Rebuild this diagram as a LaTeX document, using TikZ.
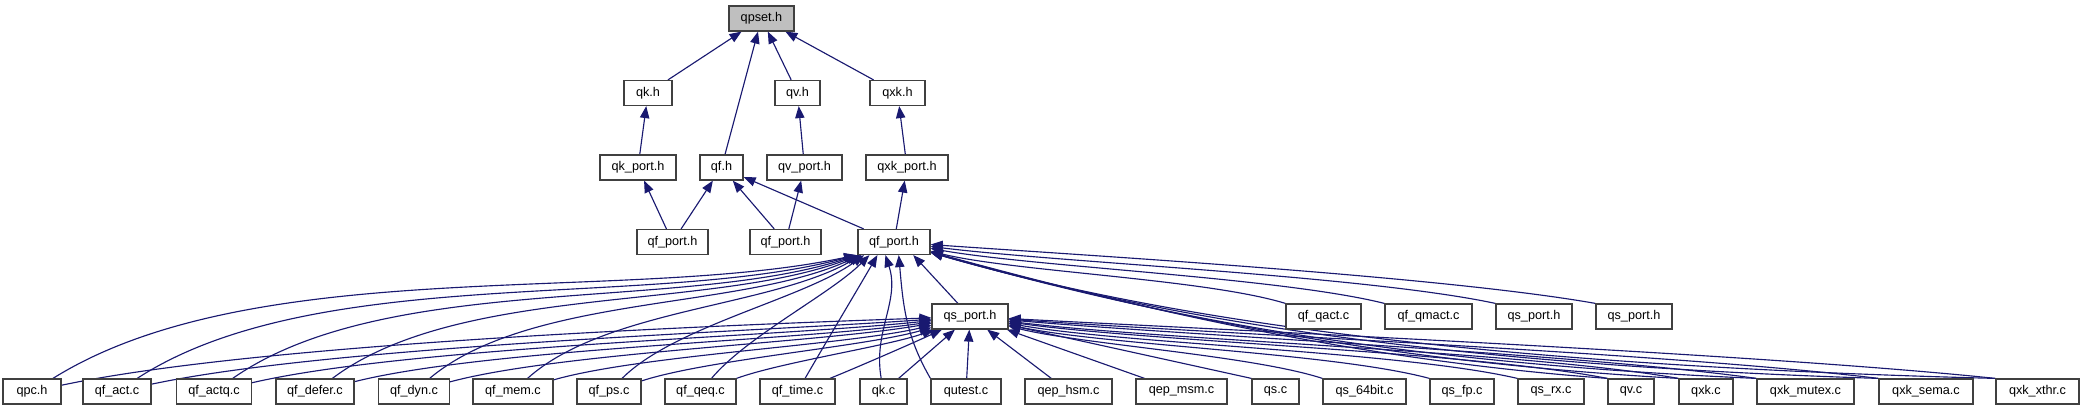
\documentclass[tikz,border=0pt]{standalone}
\usepackage{fontspec}
\setmainfont{Liberation Sans}
\usetikzlibrary{arrows.meta}
\pgfdeclarelayer{edges}
\pgfsetlayers{edges,main}
\definecolor{edgeblue}{HTML}{191970}
\definecolor{nodeborder}{HTML}{404040}
\definecolor{qgray}{HTML}{BFBFBF}
\tikzset{
  fb/.style={draw=nodeborder, line width=0.9pt, fill=white, minimum width=#1*0.75pt,
    minimum height=18.75pt, inner sep=0pt, font=\fontsize{9.5}{11}\selectfont},
  dep/.style={draw=edgeblue, line width=0.85pt, -{Triangle[length=9pt,width=7pt]}}
}
\begin{document}
\begin{tikzpicture}[x=0.75pt,y=0.75pt]
\useasboundingbox (0,0) rectangle (2085,411);
% rows (y up): 392.5, 318, 243.5, 169, 94.5, 19.5
\node[fb=65, fill=qgray] (qpset) at (761.5,392.5) {qpset.h};
\node[fb=48] (qkh) at (648,318) {qk.h};
\node[fb=45] (qvh) at (797.5,318) {qv.h};
\node[fb=55] (qxkh) at (897.5,318) {qxk.h};
\node[fb=76] (qkport) at (638,243.5) {qk\_port.h};
\node[fb=43] (qfh) at (721.5,243.5) {qf.h};
\node[fb=75] (qvport) at (804.5,243.5) {qv\_port.h};
\node[fb=82] (qxkport) at (907,243.5) {qxk\_port.h};
\node[fb=71] (qfp1) at (672.5,169) {qf\_port.h};
\node[fb=71] (qfp2) at (785.5,169) {qf\_port.h};
\node[fb=72] (qfp) at (894,169) {qf\_port.h};
\node[fb=76] (qsp) at (970,94.5) {qs\_port.h};
\node[fb=75] (qfqact) at (1323.5,94.5) {qf\_qact.c};
\node[fb=87] (qfqmact) at (1428.5,94.5) {qf\_qmact.c};
\node[fb=76] (qspa) at (1534,94.5) {qs\_port.h};
\node[fb=76] (qspb) at (1634,94.5) {qs\_port.h};
\node[fb=58] (qpch) at (32,19.5) {qpc.h};
\node[fb=68] (qfact) at (117,19.5) {qf\_act.c};
\node[fb=75] (qfactq) at (214,19.5) {qf\_actq.c};
\node[fb=78] (qfdefer) at (315,19.5) {qf\_defer.c};
\node[fb=71] (qfdyn) at (414,19.5) {qf\_dyn.c};
\node[fb=80] (qfmem) at (513,19.5) {qf\_mem.c};
\node[fb=64] (qfps) at (609,19.5) {qf\_ps.c};
\node[fb=71] (qfqeq) at (700.5,19.5) {qf\_qeq.c};
\node[fb=75] (qftime) at (797.5,19.5) {qf\_time.c};
\node[fb=47] (qkc) at (883.5,19.5) {qk.c};
\node[fb=70] (qutest) at (966,19.5) {qutest.c};
\node[fb=87] (qephsm) at (1068.5,19.5) {qep\_hsm.c};
\node[fb=91] (qepmsm) at (1181.5,19.5) {qep\_msm.c};
\node[fb=47] (qsc) at (1275.5,19.5) {qs.c};
\node[fb=83] (qs64) at (1364.5,19.5) {qs\_64bit.c};
\node[fb=64] (qsfp) at (1462,19.5) {qs\_fp.c};
\node[fb=66] (qsrx) at (1551,19.5) {qs\_rx.c};
\node[fb=46] (qvc) at (1631,19.5) {qv.c};
\node[fb=54] (qxkc) at (1706,19.5) {qxk.c};
\node[fb=97] (qxkmutex) at (1805.5,19.5) {qxk\_mutex.c};
\node[fb=94] (qxksema) at (1926,19.5) {qxk\_sema.c};
\node[fb=83] (qxkxthr) at (2037.5,19.5) {qxk\_xthr.c};
\begin{pgfonlayer}{edges}
% upper edges
\draw[dep] (qkh) -- (qpset);
\draw[dep] (qfh) -- (qpset);
\draw[dep] (qvh) -- (qpset);
\draw[dep] (qxkh) -- (qpset);
\draw[dep] (qkport) -- (qkh);
\draw[dep] (qvport) -- (qvh);
\draw[dep] (qxkport) -- (qxkh);
\draw[dep] (qfp1) -- (qkport);
\draw[dep] (qfp1) -- (qfh);
\draw[dep] (qfp2) -- (qfh);
\draw[dep] (qfp2) -- (qvport);
\draw[dep] (qfp) -- (qfh);
\draw[dep] (qfp) -- (qxkport);
% into qf_port.h from the left and below
\draw[dep] (qpch) to[out=32,in=192,looseness=0.75] ([xshift=-1pt]qfp.south west);
\draw[dep] (qfact) to[out=33,in=195,looseness=0.75] ([xshift=-1pt]qfp.south west);
\draw[dep] (qfactq) to[out=35,in=198,looseness=0.75] ([xshift=0pt]qfp.south west);
\draw[dep] (qfdefer) to[out=37,in=201,looseness=0.75] ([xshift=1pt]qfp.south west);
\draw[dep] (qfdyn) to[out=40,in=205,looseness=0.75] ([xshift=2pt]qfp.south west);
\draw[dep] (qfmem) to[out=42,in=210,looseness=0.75] ([xshift=3pt]qfp.south west);
\draw[dep] (qfps) to[out=45,in=216,looseness=0.7] ([xshift=5pt]qfp.south west);
\draw[dep] (qfqeq) to[out=50,in=225,looseness=0.7] ([xshift=9pt]qfp.south west);
\draw[dep] (qftime) to[out=60,in=240,looseness=0.7] ([xshift=15pt]qfp.south west);
\draw[dep] (qkc) to[out=100,in=-72] ([xshift=21pt]qfp.south west);
\draw[dep] (qutest.north west) to[out=120,in=-85] ([xshift=31pt]qfp.south west);
\draw[dep] (qsp) -- ([xshift=-13pt]qfp.south east);
% into qf_port.h from the right
\draw[dep] (qfqact.north west) to[out=163,in=-14,looseness=0.6] (qfp);
\draw[dep] (qfqmact.north west) to[out=166,in=-10,looseness=0.6] (qfp);
\draw[dep] (qspa.north west) to[out=168,in=-7,looseness=0.6] (qfp);
\draw[dep] (qspb.north west) to[out=170,in=-4,looseness=0.6] (qfp);
\draw[dep] (qvc.north west) .. controls +(-258,19) and +(236,-64) .. (qfp);
\draw[dep] (qxkc.north west) .. controls +(-320,18) and +(238,-66) .. (qfp);
\draw[dep] (qxkmutex.north west) .. controls +(-390,17) and +(240,-68) .. (qfp);
\draw[dep] (qxksema.north west) .. controls +(-470,15) and +(245,-70) .. (qfp);
\draw[dep] (qxkxthr.north west) .. controls +(-546,14) and +(250,-72) .. (qfp);
% into qs_port.h
\draw[dep] (qpch) to[out=12,in=182,looseness=0.6] (qsp);
\draw[dep] (qfact) to[out=12,in=184,looseness=0.6] (qsp);
\draw[dep] (qfactq) to[out=13,in=186,looseness=0.6] (qsp);
\draw[dep] (qfdefer) to[out=14,in=188,looseness=0.6] (qsp);
\draw[dep] (qfdyn) to[out=15,in=190,looseness=0.6] (qsp);
\draw[dep] (qfmem) to[out=16,in=193,looseness=0.6] (qsp);
\draw[dep] (qfps) to[out=18,in=196,looseness=0.6] (qsp);
\draw[dep] (qfqeq) to[out=20,in=200,looseness=0.6] (qsp);
\draw[dep] (qftime) to[out=22,in=205,looseness=0.6] (qsp);
\draw[dep] (qkc) -- (qsp);
\draw[dep] (qutest) -- (qsp);
\draw[dep] (qephsm) -- (qsp);
\draw[dep] (qepmsm) -- (qsp);
\draw[dep] (qsc.north west) -- (qsp);
\draw[dep] (qs64.north west) to[out=162,in=-14,looseness=0.6] (qsp);
\draw[dep] (qsfp.north west) to[out=165,in=-12,looseness=0.6] (qsp);
\draw[dep] (qsrx.north west) to[out=167,in=-10,looseness=0.6] (qsp);
\draw[dep] (qvc.north west) to[out=169,in=-8,looseness=0.6] (qsp);
\draw[dep] (qxkc.north west) to[out=170,in=-7,looseness=0.6] (qsp);
\draw[dep] (qxkmutex.north west) to[out=172,in=-5,looseness=0.6] (qsp);
\draw[dep] (qxksema.north west) to[out=173,in=-4,looseness=0.6] (qsp);
\draw[dep] (qxkxthr.north west) to[out=174,in=-3,looseness=0.6] (qsp);
\end{pgfonlayer}
\end{tikzpicture}
\end{document}
